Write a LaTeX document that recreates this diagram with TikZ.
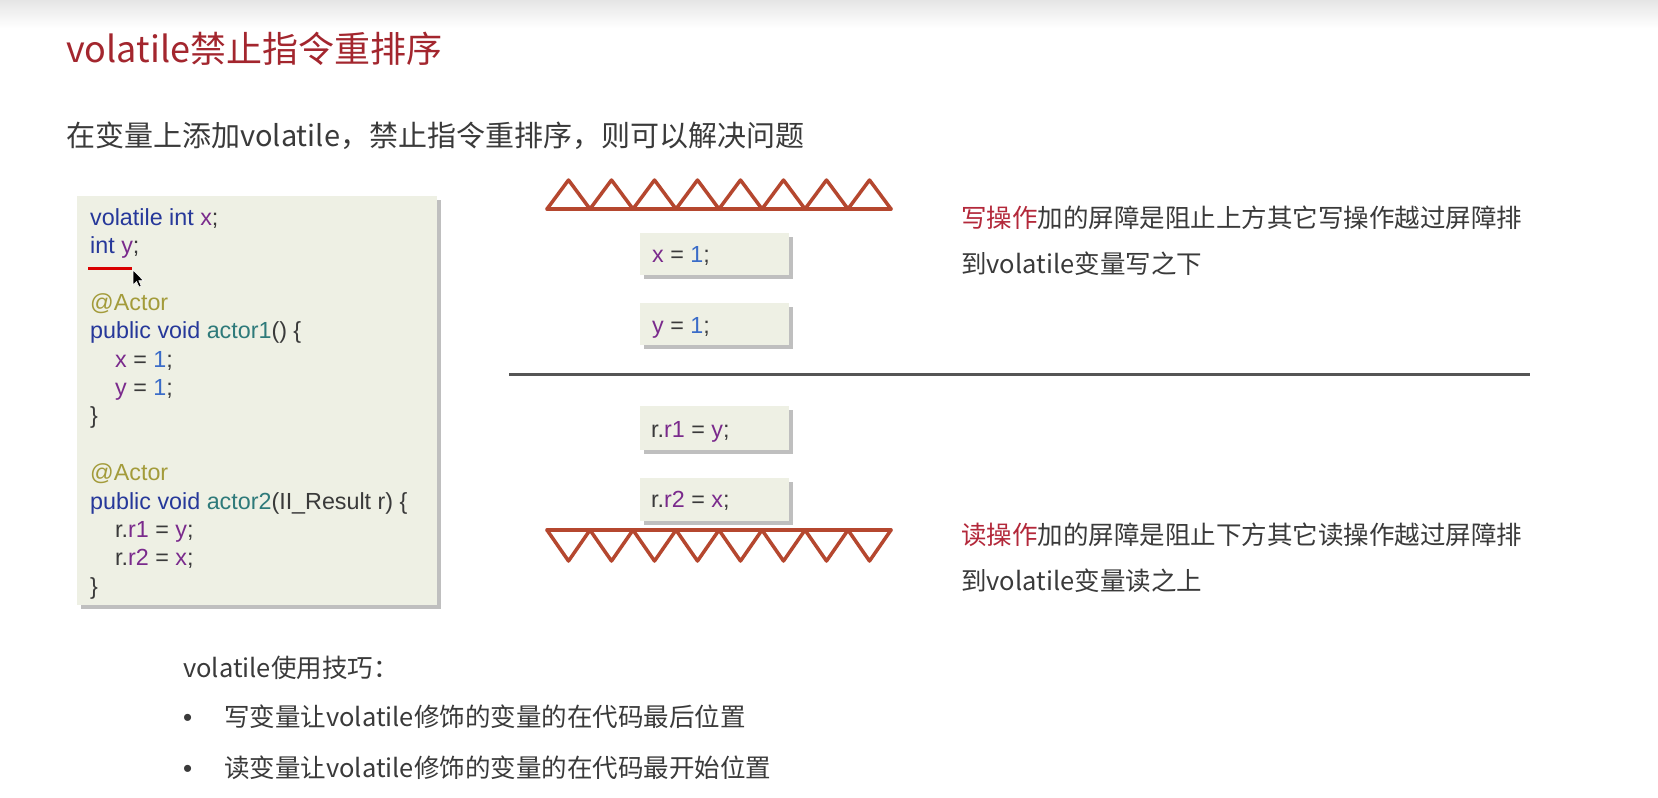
\documentclass[tikz,border=0pt]{standalone}
\usepackage{fontspec}
\setmainfont{Liberation Sans}
\newfontfamily\cjk{Noto Sans CJK SC}
\usetikzlibrary{shadows}
\definecolor{txt}{HTML}{3A3A3A}
\definecolor{titlered}{HTML}{A3262E}
\definecolor{hlred}{HTML}{B3283A}
\definecolor{rust}{HTML}{B5472F}
\definecolor{kwblue}{HTML}{26389A}
\definecolor{varpur}{HTML}{7A2A8C}
\definecolor{numblue}{HTML}{3A6CC8}
\definecolor{annol}{HTML}{A39B3A}
\definecolor{fnteal}{HTML}{2E7A7A}
\definecolor{boxfill}{HTML}{EEF0E4}
\definecolor{sep}{HTML}{555555}
\newcommand\ckw[1]{\textcolor{kwblue}{#1}}
\newcommand\cvar[1]{\textcolor{varpur}{#1}}
\newcommand\cnum[1]{\textcolor{numblue}{#1}}
\newcommand\cann[1]{\textcolor{annol}{#1}}
\newcommand\cfn[1]{\textcolor{fnteal}{#1}}
\tikzset{
  codeline/.style={anchor=base west, inner sep=0pt, text=txt, font=\fontsize{23.3}{28}\selectfont},
  cntext/.style={anchor=base west, inner sep=0pt, text=txt, font=\cjk\fontsize{25.5}{30}\selectfont},
  bulletmark/.style={anchor=base west, inner sep=0pt, text=txt, font=\fontsize{26}{30}\selectfont},
  panel/.style={draw=none, fill=boxfill, inner sep=0pt, drop shadow={shadow xshift=4pt, shadow yshift=-4pt, fill=black!45, opacity=0.55}},
  barrier/.style={draw=rust, line width=3.5pt, line join=round, line cap=round},
}
\begin{document}
\begin{tikzpicture}[x=1pt,y=-1pt]
\useasboundingbox (0,0) rectangle (1658,798);
\fill[white] (0,0) rectangle (1658,798);
\shade[top color=black!10, bottom color=white] (0,0) rectangle (1658,28);
% title
\node[anchor=base west, inner sep=0pt, text=titlered, font=\cjk\fontsize{36}{40}\selectfont] (title) at (66,62.5) {volatile禁止指令重排序};
\node[anchor=base west, inner sep=0pt, text=txt, font=\cjk\fontsize{29}{34}\selectfont] (sub) at (66,146.5) {在变量上添加volatile，禁止指令重排序，则可以解决问题};
% code panel
\node[panel, minimum width=360pt, minimum height=409pt] (codebox) at (257,400.5) {};
\node[codeline] (l0) at (90,225) {\ckw{volatile int} \cvar{x};};
\node[codeline] (l1) at (90,253.4) {\ckw{int} \cvar{y};};
\node[codeline] (l3) at (90,310.2) {\cann{@Actor}};
\node[codeline] (l4) at (90,338.6) {\ckw{public void} \cfn{actor1}() \{};
\node[codeline] (l5) at (115,367) {\cvar{x} = \cnum{1};};
\node[codeline] (l6) at (115,395.4) {\cvar{y} = \cnum{1};};
\node[codeline] (l7) at (90,423.8) {\}};
\node[codeline] (l9) at (90,480.6) {\cann{@Actor}};
\node[codeline] (l10) at (90,509) {\ckw{public void} \cfn{actor2}(II\_Result r) \{};
\node[codeline] (l11) at (115,537.4) {r.\cvar{r1} = \cvar{y};};
\node[codeline] (l12) at (115,565.8) {r.\cvar{r2} = \cvar{x};};
\node[codeline] (l13) at (90,594.2) {\}};
% red underline and cursor
\coordinate (ula) at (88,268.5);
\coordinate (ulb) at (132,268.5);
\draw[red!85!black, line width=3pt] (ula) -- (ulb);
\filldraw[fill=black, draw=white, line width=0.6pt] (133,270) -- (133,285) -- (136.5,281.5) -- (139,287) -- (141.2,286) -- (138.8,280.6) -- (143.5,280.6) -- cycle;
% top barrier
\foreach \i in {0,...,7}{
  \draw[barrier] ({547+43*\i},209) -- ({568.5+43*\i},180) -- ({590+43*\i},209);
}
\draw[barrier] (547,209) -- (891,209);
% statement boxes
\node[panel, minimum width=149pt, minimum height=42pt] (bx) at (714.5,254) {};
\node[codeline] (tx) at (652,262) {\cvar{x} = \cnum{1};};
\node[panel, minimum width=149pt, minimum height=42pt] (by) at (714.5,324) {};
\node[codeline] (ty) at (652,333) {\cvar{y} = \cnum{1};};
% separator
\coordinate (sepa) at (509,374);
\coordinate (sepb) at (1530,374);
\draw[sep, line width=3pt] (sepa) -- (sepb);
\node[panel, minimum width=149pt, minimum height=44pt] (br1) at (714.5,428) {};
\node[codeline] (tr1) at (651,437) {r.\cvar{r1} = \cvar{y};};
\node[panel, minimum width=149pt, minimum height=43pt] (br2) at (714.5,499.5) {};
\node[codeline] (tr2) at (651,507) {r.\cvar{r2} = \cvar{x};};
% bottom barrier
\foreach \i in {0,...,7}{
  \draw[barrier] ({547+43*\i},530) -- ({568.5+43*\i},561) -- ({590+43*\i},530);
}
\draw[barrier] (547,530) -- (891,530);
% right texts
\node[cntext] (w1) at (961,227.5) {\textcolor{hlred}{写操作}加的屏障是阻止上方其它写操作越过屏障排};
\node[cntext] (w2) at (961,273) {到volatile变量写之下};
\node[cntext] (r1) at (961,544.5) {\textcolor{hlred}{读操作}加的屏障是阻止下方其它读操作越过屏障排};
\node[cntext] (r2) at (961,590) {到volatile变量读之上};
% tips
\node[cntext] (tip) at (183,677) {volatile使用技巧：};
\node[bulletmark] (b1) at (183,726.5) {•};
\node[cntext] (t1) at (224,726.5) {写变量让volatile修饰的变量的在代码最后位置};
\node[bulletmark] (b2) at (183,777) {•};
\node[cntext] (t2) at (224,777) {读变量让volatile修饰的变量的在代码最开始位置};
\end{tikzpicture}
\end{document}
